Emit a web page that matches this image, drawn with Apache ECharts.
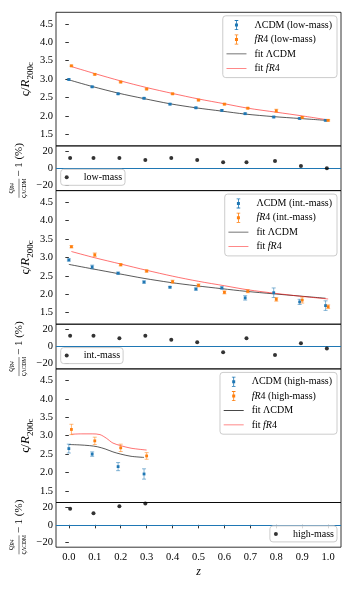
<!DOCTYPE html>
<html><head><meta charset="utf-8">
<script src="https://cdn.jsdelivr.net/npm/echarts@6/dist/echarts.min.js"></script>
<style>html,body{margin:0;padding:0;background:#fff}#c{width:354px;height:590px}</style>
</head><body><div id="c"></div>
<script>
// ---------- data ----------
const xTicks = [0, 0.1, 0.2, 0.3, 0.4, 0.5, 0.6, 0.7, 0.8, 0.9, 1.0];
const yTicksMain = [1.5, 2.0, 2.5, 3.0, 3.5, 4.0, 4.5];
const yTicksRatio = [-20, 0, 20];

const zLcdm = [0, 0.09, 0.19, 0.29, 0.39, 0.49, 0.59, 0.68, 0.79, 0.89, 0.99];
const zFr4 = [0.01, 0.10, 0.20, 0.30, 0.40, 0.50, 0.60, 0.69, 0.80, 0.90, 1.00];
const zRatio = [0.005, 0.095, 0.195, 0.295, 0.395, 0.495, 0.595, 0.685, 0.795, 0.895, 0.995];

// low-mass
const lcdmLow = [2.99, 2.79, 2.60, 2.48, 2.32, 2.22, 2.15, 2.06, 1.97, 1.93, 1.88];
const lcdmLowErr = [0.02, 0.02, 0.02, 0.02, 0.02, 0.02, 0.02, 0.02, 0.02, 0.02, 0.02];
const fr4Low = [3.36, 3.13, 2.92, 2.73, 2.60, 2.43, 2.32, 2.21, 2.14, 1.96, 1.88];
const fr4LowErr = [0.02, 0.02, 0.02, 0.02, 0.02, 0.02, 0.02, 0.02, 0.04, 0.02, 0.02];
const fitLcdmLow = [2.98, 2.80, 2.62, 2.47, 2.33, 2.22, 2.13, 2.05, 1.98, 1.93, 1.88];
const fitFr4Low = [3.34, 3.15, 2.95, 2.77, 2.61, 2.46, 2.33, 2.21, 2.10, 2.00, 1.89];
const ratioLow = [12, 12, 12, 9.5, 12, 9.5, 7, 7, 8.5, 2.5, 0];

// intermediate-mass
const lcdmInt = [2.93, 2.74, 2.57, 2.33, 2.19, 2.14, 2.17, 1.90, 2.04, 1.79, 1.69];
const lcdmIntErr = [0.03, 0.05, 0.03, 0.03, 0.02, 0.03, 0.03, 0.06, 0.13, 0.07, 0.13];
const fr4Int = [3.29, 3.07, 2.80, 2.63, 2.34, 2.24, 2.05, 2.08, 1.86, 1.84, 1.66];
const fr4IntErr = [0.03, 0.05, 0.03, 0.03, 0.04, 0.04, 0.04, 0.04, 0.05, 0.08, 0.05];
const fitLcdmInt = [2.81, 2.69, 2.56, 2.43, 2.32, 2.23, 2.15, 2.08, 2.01, 1.95, 1.89];
const fitFr4Int = [3.16, 2.99, 2.82, 2.65, 2.49, 2.35, 2.23, 2.12, 2.02, 1.94, 1.87];
const ratioInt = [12.7, 12.7, 9.8, 12.7, 7.8, 4.9, -6.5, 9.8, -9.8, 3.7, -2.4];

// high-mass
const zLcdmHigh = [0, 0.09, 0.19, 0.29];
const zFr4High = [0.01, 0.10, 0.20, 0.30];
const zRatioHigh = [0.005, 0.095, 0.195, 0.295];
const lcdmHigh = [2.65, 2.50, 2.16, 1.96];
const lcdmHighErr = [0.12, 0.06, 0.11, 0.14];
const fr4High = [3.17, 2.86, 2.67, 2.45];
const fr4HighErr = [0.14, 0.10, 0.10, 0.09];
const zFitLcdmHigh = [0, 0.04, 0.08, 0.11, 0.14, 0.17, 0.20, 0.24, 0.29];
const fitLcdmHigh = [2.76, 2.75, 2.73, 2.70, 2.64, 2.56, 2.50, 2.44, 2.41];
const zFitFr4High = [0.01, 0.05, 0.09, 0.12, 0.145, 0.17, 0.20, 0.24, 0.30];
const fitFr4High = [3.04, 3.05, 3.05, 3.03, 2.93, 2.80, 2.73, 2.66, 2.61];
const ratioHigh = [18.8, 13.5, 21.6, 24.9];

const panels = [
  {tag: 'low-mass', zL: zLcdm, zF: zFr4, zR: zRatio, l: lcdmLow, le: lcdmLowErr, f: fr4Low, fe: fr4LowErr,
   fzL: zLcdm, fl: fitLcdmLow, fzF: zFr4, ff: fitFr4Low, r: ratioLow, rLegRight: false},
  {tag: 'int.-mass', zL: zLcdm, zF: zFr4, zR: zRatio, l: lcdmInt, le: lcdmIntErr, f: fr4Int, fe: fr4IntErr,
   fzL: zLcdm, fl: fitLcdmInt, fzF: zFr4, ff: fitFr4Int, r: ratioInt, rLegRight: false},
  {tag: 'high-mass', zL: zLcdmHigh, zF: zFr4High, zR: zRatioHigh, l: lcdmHigh, le: lcdmHighErr, f: fr4High, fe: fr4HighErr,
   fzL: zFitLcdmHigh, fl: fitLcdmHigh, fzF: zFitFr4High, ff: fitFr4High, r: ratioHigh, rLegRight: true}
];

// ---------- style / layout ----------
const FONT = 'Liberation Serif';
const BLUE = '#1f77b4', ORANGE = '#ff7f0e';
const LEFT = 56, RIGHT = 13, TOP0 = 12.3, MAIN_H = 133.6, RATIO_H = 44.7, STEP = MAIN_H + RATIO_H;
const XMIN = -0.0495, XMAX = 1.0495;

const errIcon = 'path://M0,0L0.01,0L0,0.01Z M20,10L19.99,10L20,9.99Z M8.2,0H11.8V0.8H8.2Z M9.6,0H10.4V10H9.6Z M8.2,9.2H11.8V10H8.2Z M8.5,3.5H11.5V6.5H8.5Z';
const lineIcon = 'path://M0,0L0.01,0L0,0.01Z M20,10L19.99,10L20,9.99Z M0,4.6H20V5.4H0Z';

function errSeries(name, z, v, e, color, barColor, idx) {
  return {
    type: 'custom', name, xAxisIndex: idx, yAxisIndex: idx, z: 4,
    itemStyle: {color},
    data: z.map((x, i) => [x, v[i], e[i]]),
    renderItem(params, api) {
      const x = api.value(0), y = api.value(1), er = api.value(2);
      const c = api.coord([x, y]), t = api.coord([x, y + er]), b = api.coord([x, y - er]);
      const cw = 2;
      const ls = {stroke: barColor, lineWidth: 0.9};
      return {type: 'group', children: [
        {type: 'line', shape: {x1: c[0], y1: t[1], x2: c[0], y2: b[1]}, style: ls},
        {type: 'line', shape: {x1: c[0] - cw, y1: t[1], x2: c[0] + cw, y2: t[1]}, style: ls},
        {type: 'line', shape: {x1: c[0] - cw, y1: b[1], x2: c[0] + cw, y2: b[1]}, style: ls},
        {type: 'rect', shape: {x: c[0] - 1.4, y: c[1] - 1.4, width: 2.8, height: 2.8}, style: {fill: color}}
      ]};
    }
  };
}
function fitSeries(name, z, v, color, idx) {
  return {
    type: 'line', name, xAxisIndex: idx, yAxisIndex: idx, z: 3,
    data: z.map((x, i) => [x, v[i]]), symbol: 'none', smooth: 0.3,
    lineStyle: {color, width: 0.9}, itemStyle: {color}, silent: true
  };
}

const grid = [], xAxis = [], yAxis = [], series = [], legend = [], graphicEls = [];
const legendText = {
  fontFamily: FONT, fontSize: 10, color: '#000', lineHeight: 10, padding: [0, 0, 0, 3],
  rich: {i: {fontFamily: FONT, fontSize: 10, fontStyle: 'italic', lineHeight: 10}}
};

panels.forEach((p, k) => {
  const mTop = TOP0 + k * STEP, rTop = mTop + MAIN_H;
  const mi = 2 * k, ri = 2 * k + 1;
  const last = k === panels.length - 1;
  grid.push({left: LEFT, right: RIGHT, top: mTop, height: MAIN_H, show: true, borderColor: '#000', borderWidth: 0.8, outerBoundsMode: 'none'});
  grid.push({left: LEFT, right: RIGHT, top: rTop, height: RATIO_H, show: true, borderColor: '#000', borderWidth: 0.8, outerBoundsMode: 'none'});
  [mi, ri].forEach(gi => {
    const isBottom = last && gi === ri;
    xAxis.push({
      type: 'value', gridIndex: gi, min: XMIN, max: XMAX,
      axisLine: {show: false}, splitLine: {show: false},
      axisTick: {show: isBottom, customValues: xTicks, length: 3.5, lineStyle: {color: '#000', width: 0.8}},
      axisLabel: {show: isBottom, customValues: xTicks, formatter: v => v.toFixed(1), fontFamily: FONT, fontSize: 10.5, color: '#000', margin: 4.5},
      name: isBottom ? 'z' : '', nameLocation: 'middle', nameGap: 19,
      nameTextStyle: {fontFamily: FONT, fontStyle: 'italic', fontSize: 12, color: '#000'}
    });
  });
  yAxis.push({
    type: 'value', gridIndex: mi, min: 1.185, max: 4.815,
    axisLine: {show: false}, splitLine: {show: false},
    axisTick: {show: true, customValues: yTicksMain, length: 3.5, lineStyle: {color: '#000', width: 0.8}},
    axisLabel: {customValues: yTicksMain, formatter: v => v.toFixed(1), fontFamily: FONT, fontSize: 10.5, color: '#000', margin: 3}
  });
  yAxis.push({
    type: 'value', gridIndex: ri, min: -26, max: 26,
    axisLine: {show: false}, splitLine: {show: false},
    axisTick: {show: true, customValues: yTicksRatio, length: 3.5, lineStyle: {color: '#000', width: 0.8}},
    axisLabel: {customValues: yTicksRatio, formatter: v => v < 0 ? '\u2212' + Math.abs(v) : String(v), fontFamily: FONT, fontSize: 10.5, color: '#000', margin: 3}
  });

  const nL = '\u039BCDM (' + p.tag + ')', nF = 'fR4 (' + p.tag + ')';
  series.push(fitSeries('fit \u039BCDM', p.fzL, p.fl, 'rgba(0,0,0,0.72)', mi));
  series.push(fitSeries('fit fR4', p.fzF, p.ff, 'rgba(255,0,0,0.62)', mi));
  series.push(errSeries(nL, p.zL, p.l, p.le, BLUE, 'rgba(31,119,180,0.6)', mi));
  series.push(errSeries(nF, p.zF, p.f, p.fe, ORANGE, 'rgba(255,127,14,0.6)', mi));
  series.push({
    type: 'scatter', name: p.tag, xAxisIndex: ri, yAxisIndex: ri, z: 5,
    data: p.zR.map((x, i) => [x, p.r[i]]), symbol: 'circle', symbolSize: 4,
    itemStyle: {color: '#000'}, silent: true,
    markLine: {symbol: 'none', silent: true, label: {show: false}, z: 2,
      lineStyle: {color: BLUE, width: 1.2, type: 'solid'}, data: [{yAxis: 0}]}
  });

  legend.push({
    orient: 'vertical', right: 17, top: mTop + 3.5,
    itemWidth: 20, itemHeight: 10, itemGap: 4.4, padding: [4.3, 5, 4.3, 3.7],
    backgroundColor: 'rgba(255,255,255,0.8)', borderColor: '#cccccc', borderWidth: 1, borderRadius: 3,
    selectedMode: false, textStyle: legendText,
    formatter: n => n.replace('fR4', '{i|fR}4'),
    data: [
      {name: nL, icon: errIcon}, {name: nF, icon: errIcon},
      {name: 'fit \u039BCDM', icon: lineIcon}, {name: 'fit fR4', icon: lineIcon}
    ]
  });
  const rl = {
    orient: 'vertical', top: rTop + 23.4,
    itemWidth: 14, itemHeight: 4, padding: [3, 3, 3, 4],
    backgroundColor: 'rgba(255,255,255,0.8)', borderColor: '#cccccc', borderWidth: 1, borderRadius: 3,
    selectedMode: false,
    textStyle: {fontFamily: FONT, fontSize: 10, color: '#000', lineHeight: 10, padding: [0, 0, 0, 5]},
    data: [{name: p.tag, icon: 'circle'}]
  };
  if (p.rLegRight) rl.right = 17; else rl.left = 60.7;
  legend.push(rl);

  // y labels
  graphicEls.push({
    type: 'text', x: 26, y: mTop + MAIN_H / 2, rotation: Math.PI / 2,
    style: {
      text: '{a|\u03C2/}{r|R}{s|200c}', textAlign: 'center', textVerticalAlign: 'middle', fill: '#000',
      rich: {
        a: {fontFamily: FONT, fontSize: 13, lineHeight: 18},
        r: {fontFamily: FONT, fontSize: 13, fontStyle: 'italic', lineHeight: 18},
        s: {fontFamily: FONT, fontSize: 9, lineHeight: 9, verticalAlign: 'bottom'}
      }
    }
  });
  const cy = rTop + RATIO_H / 2;
  graphicEls.push({
    type: 'group', x: 19, y: cy, rotation: Math.PI / 2,
    children: [
      {type: 'text', x: -20, y: -3.6, style: {text: '{a|\u03C2}{b|fR4}', textAlign: 'center', textVerticalAlign: 'bottom', fill: '#000',
        rich: {a: {fontFamily: FONT, fontSize: 7.5, lineHeight: 8}, b: {fontFamily: FONT, fontStyle: 'italic', fontSize: 5.5, lineHeight: 6, verticalAlign: 'bottom'}}}},
      {type: 'line', shape: {x1: -29.5, y1: 0, x2: -10.5, y2: 0}, style: {stroke: '#000', lineWidth: 0.5}},
      {type: 'text', x: -20, y: 0.8, style: {text: '{a|\u03C2}{b|\u039BCDM}', textAlign: 'center', textVerticalAlign: 'top', fill: '#000',
        rich: {a: {fontFamily: FONT, fontSize: 7.5, lineHeight: 8}, b: {fontFamily: FONT, fontSize: 5.5, lineHeight: 6, verticalAlign: 'bottom'}}}},
      {type: 'text', x: -8.5, y: 0, style: {text: '\u2212 1 (%)', textAlign: 'left', textVerticalAlign: 'middle', fill: '#000', font: '11px "Liberation Serif"'}}
    ]
  });
});

const chart = echarts.init(document.getElementById('c'), null, {renderer: 'canvas'});
chart.setOption({
  animation: false, backgroundColor: '#fff',
  grid, xAxis, yAxis, series, legend,
  graphic: {elements: graphicEls}
});
</script></body></html>
